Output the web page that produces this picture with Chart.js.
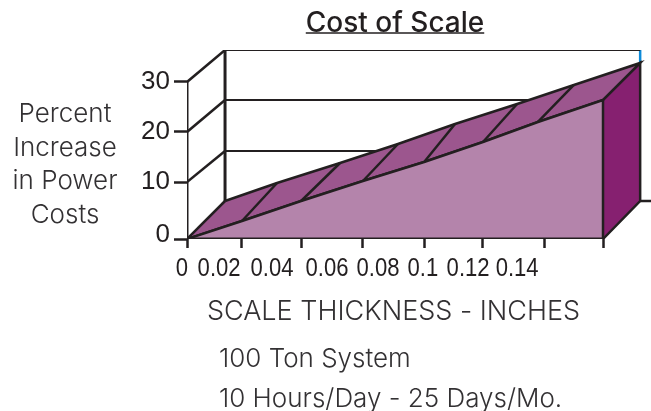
<!DOCTYPE html>
<html lang="en">
  <head>
    <meta charset="UTF-8" />
    <title>Cost of Scale</title>
    <style>
      html, body { margin: 0; padding: 0; background: #fff; }
      canvas { display: block; }
    </style>
  </head>
  <body>
    <canvas id="my-chart" width="651" height="411"></canvas>

    <script src="https://cdn.jsdelivr.net/npm/chart.js"></script>
    <script>
      // values, in axis units
      const frontThickness = [0, 0.0185, 0.0384, 0.0592, 0.0798, 0.0996, 0.1181, 0.14];
      const frontValues = [0, 3.44, 7.26, 11.08, 14.71, 18.53, 22.36, 26.56];
      const backThickness = [0.0128, 0.0303, 0.0515, 0.071, 0.0902, 0.1111, 0.1302, 0.1525];
      const backValues = [7.26, 10.7, 14.52, 18.15, 21.97, 25.8, 29.43, 33.63];

      const xTickValues = [0, 0.0185, 0.0384, 0.0592, 0.0798, 0.0996, 0.1204, 0.14];
      const xLabelValues = [-0.0017, 0.0108, 0.0286, 0.0471, 0.0643, 0.0794, 0.0946, 0.1111];
      const xLabels = ["0", "0.02", "0.04", "0.06", "0.08", "0.1", "0.12", "0.14"];
      const yTickValues = [0, 10.89, 20.45, 30];
      const yLabelValues = [0.76, 10.89, 20.45, 30];
      const yLabels = ["0", "10", "20", "30"];

      // back wall lines, one per left axis tick above zero
      const wallValues = [16.82, 26.56, 36.11];
      const wallLeft = 0.0128;
      const wallRight = 0.1525;
      const wallBase = 7.26;
      const xMax = 0.15615;
      const yMax = 36.11;

      const chartTitle = "Cost of Scale";
      const xTitle = "SCALE THICKNESS - INCHES";
      const yTitle = ["Percent", "Increase", "in Power", "Costs"];
      const notes = ["100 Ton System", "10 Hours/Day - 25 Days/Mo."];

      const dark = "#231f20";
      const textColor = "#333133";
      const lightFont = '300 26px Inter, "Liberation Sans", sans-serif';
      const capsFont = '300 27px Inter, "Liberation Sans", sans-serif';
      const titleFont = { family: 'Inter, "Liberation Sans", sans-serif', size: 28, weight: "500" };
      const tickFamily = '"Liberation Sans", sans-serif';

      function line(x1, y1, x2, y2, color, width) {
        return {
          data: [{ x: x1, y: y1 }, { x: x2, y: y2 }],
          showLine: true,
          fill: false,
          pointRadius: 0,
          borderColor: color || dark,
          borderWidth: width || 2.5,
        };
      }

      function face(xs, ys, color) {
        return {
          data: xs.map((x, i) => ({ x: x, y: ys[i] })),
          showLine: true,
          fill: "shape",
          pointRadius: 0,
          backgroundColor: color,
          borderColor: dark,
          borderWidth: 2.5,
        };
      }

      const last = frontThickness.length - 1;

      // first in the list is drawn on top
      const datasets = [];

      // left axis and floor edge sit over the faces
      datasets.push(line(0, 0, 0, 30, dark, 3));
      datasets.push(line(0, 0, 0.14, 0, dark, 3));
      datasets.push(line(0, 0, wallLeft, wallBase));

      // ridge lines across the top face
      frontThickness.forEach((x, i) => {
        if (i > 0 && i < last) {
          datasets.push(line(x, frontValues[i], backThickness[i], backValues[i]));
        }
      });

      datasets.push(
        face([...frontThickness, 0.14], [...frontValues, 0], "#b484ab")
      );
      datasets.push(
        face(
          [...frontThickness, ...backThickness.slice().reverse()],
          [...frontValues, ...backValues.slice().reverse()],
          "#9c568e"
        )
      );
      datasets.push(
        face(
          [0.14, wallRight, wallRight, 0.14],
          [frontValues[last], backValues[last], wallBase, 0],
          "#862070"
        )
      );

      // wall and floor
      datasets.push(line(wallLeft, wallBase, wallLeft, yMax, dark, 3));
      wallValues.forEach((v, i) => {
        datasets.push(line(0, yTickValues[i + 1], wallLeft, v, dark, 2.5));
        datasets.push(line(wallLeft, v, wallRight, v, dark, 2));
      });
      datasets.push(line(wallRight, wallBase, xMax, wallBase, dark, 2.5));
      datasets.push(line(wallRight, backValues[last], wallRight, yMax, "#0d8bd9", 2.5));

      const titleUnderline = {
        id: "titleUnderline",
        afterDraw(chart) {
          const ctx = chart.ctx;
          const box = chart.titleBlock;
          ctx.save();
          ctx.font = titleFont.weight + " " + titleFont.size + "px " + titleFont.family;
          const w = ctx.measureText(chartTitle).width;
          const cx = (box.left + box.right) / 2;
          ctx.strokeStyle = dark;
          ctx.lineWidth = 1.5;
          ctx.beginPath();
          ctx.moveTo(cx - w / 2, 33);
          ctx.lineTo(cx + w / 2, 33);
          ctx.stroke();
          ctx.restore();
        },
      };

      const sideText = {
        id: "sideText",
        afterDraw(chart) {
          const ctx = chart.ctx;
          ctx.save();
          ctx.font = lightFont;
          ctx.fillStyle = textColor;
          ctx.textBaseline = "middle";
          ctx.textAlign = "center";
          yTitle.forEach((t, i) => ctx.fillText(t, 65, 114 + i * 33.7));
          ctx.textAlign = "left";
          notes.forEach((t, i) => ctx.fillText(t, 219, 359 + i * 40.5));
          ctx.font = capsFont;
          ctx.textAlign = "center";
          ctx.fillText(xTitle, 393.5, 312);
          ctx.restore();
        },
      };

      // the x labels in the source are narrow and do not line up with the ticks
      const narrowXLabels = {
        id: "narrowXLabels",
        afterDraw(chart) {
          const ctx = chart.ctx;
          const x = chart.scales.x;
          ctx.save();
          ctx.font = "26px " + tickFamily;
          ctx.fillStyle = dark;
          ctx.textAlign = "center";
          ctx.textBaseline = "alphabetic";
          xLabels.forEach((t, i) => {
            ctx.save();
            ctx.translate(x.getPixelForValue(xLabelValues[i]), 276);
            ctx.scale(0.85, 1);
            ctx.fillText(t, 0, 0);
            ctx.restore();
          });
          ctx.restore();
        },
      };

      const chart = new Chart(document.getElementById("my-chart"), {
        type: "scatter",
        data: { datasets: datasets },
        plugins: [titleUnderline, sideText, narrowXLabels],
        options: {
          responsive: false,
          animation: false,
          layout: { padding: { left: 139, top: 0, right: 0, bottom: 0 } },
          plugins: {
            legend: { display: false },
            tooltip: { enabled: false },
            title: {
              display: true,
              text: chartTitle,
              color: dark,
              font: titleFont,
              padding: { top: 7, bottom: 9.4 },
            },
          },
          scales: {
            x: {
              type: "linear",
              min: 0,
              max: xMax,
              border: { display: false },
              grid: { drawOnChartArea: false, tickLength: 9, tickWidth: 2.5, tickColor: dark },
              ticks: { display: false, autoSkip: false },
              afterBuildTicks: (s) => { s.ticks = xTickValues.map((v) => ({ value: v })); },
              afterFit: (s) => { s.height = 172; },
            },
            y: {
              type: "linear",
              min: 0,
              max: yMax,
              weight: 0,
              border: { display: false },
              grid: { drawOnChartArea: false, tickLength: 13, tickWidth: 2.5, tickColor: dark },
              ticks: { display: false, autoSkip: false },
              afterBuildTicks: (s) => { s.ticks = yTickValues.map((v) => ({ value: v })); },
              afterFit: (s) => { s.width = 13; },
            },
            y2: {
              type: "linear",
              position: "left",
              min: 0,
              max: yMax,
              weight: 1,
              border: { display: false },
              grid: { display: false, drawTicks: false },
              ticks: {
                autoSkip: false,
                color: dark,
                padding: 4,
                font: { family: tickFamily, size: 26 },
                callback: (v, i) => yLabels[i],
              },
              afterBuildTicks: (s) => { s.ticks = yLabelValues.map((v) => ({ value: v })); },
              afterFit: (s) => { s.width = 35; },
            },
          },
        },
      });
    </script>
  </body>
</html>
